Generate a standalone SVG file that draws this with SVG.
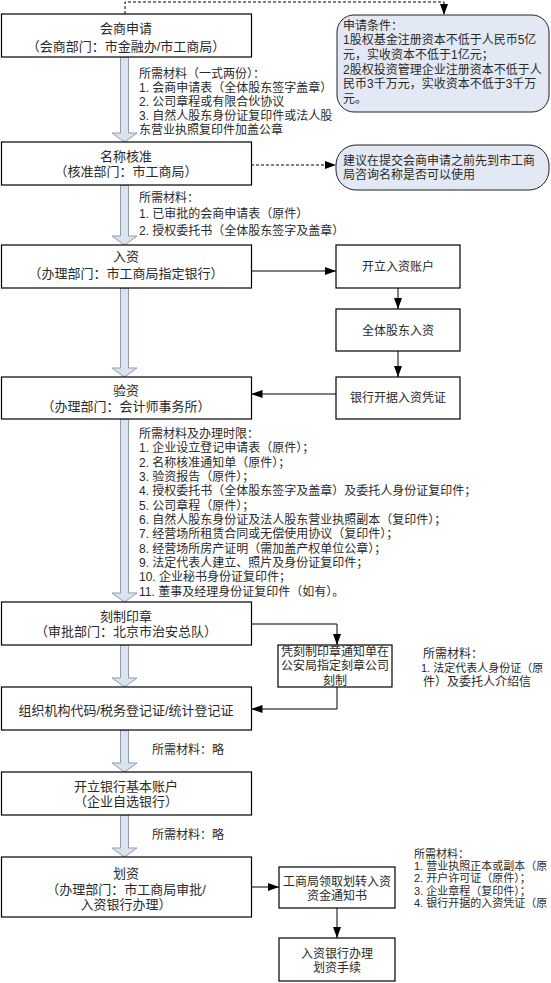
<svg xmlns="http://www.w3.org/2000/svg" width="551" height="983" viewBox="0 0 551 983">
<defs>
<style>
.box{fill:#fff;stroke:#000;stroke-width:1.2}
.rbox{fill:#e2e9f4;stroke:#222;stroke-width:1}
.t{font-family:"Liberation Sans","Noto Sans CJK SC",sans-serif;fill:#2a2a2a}
.m{font-size:13px;text-anchor:middle}
.s{font-size:12px;text-anchor:middle}
.l{font-size:12px}
.l11{font-size:11px}
.c{fill:none;stroke:#000;stroke-width:1}
.d{fill:none;stroke:#000;stroke-width:1;stroke-dasharray:3 2}
.blk{fill:#dbe3ef;stroke:#8f9bb0;stroke-width:1}
</style>
<marker id="ah" viewBox="0 0 11 8" refX="11" refY="4" markerWidth="11" markerHeight="8" orient="auto" markerUnits="userSpaceOnUse">
<path d="M0,0 L11,4 L0,8 Z" fill="#000"/>
</marker>
</defs>
<rect width="551" height="983" fill="#fff"/>

<g id="connectors">
<path class="d" d="M125,14 V2 H444 V15" marker-end="url(#ah)"/>
<path class="d" d="M251,165 H336" marker-end="url(#ah)"/>
<path class="c" d="M251,271 H336" marker-end="url(#ah)"/>
<path class="c" d="M398,288 V309" marker-end="url(#ah)"/>
<path class="c" d="M398,351 V377" marker-end="url(#ah)"/>
<path class="c" d="M336,394 H251.5" marker-end="url(#ah)"/>
<path class="c" d="M251,624 H337 V645" marker-end="url(#ah)"/>
<path class="c" d="M337,687 V709 H251.5" marker-end="url(#ah)"/>
<path class="c" d="M251,887 H279" marker-end="url(#ah)"/>
<path class="c" d="M337,908 V938" marker-end="url(#ah)"/>
<path class="blk" d="M120.5,57 H128.5 V133 H137 L124.5,142 L112,133 H120.5 Z"/>
<path class="blk" d="M120.5,185 H128.5 V236 H137 L124.5,245 L112,236 H120.5 Z"/>
<path class="blk" d="M120.5,288 H128.5 V368 H137 L124.5,377 L112,368 H120.5 Z"/>
<path class="blk" d="M120.5,419 H128.5 V593 H137 L124.5,602 L112,593 H120.5 Z"/>
<path class="blk" d="M120.5,645 H128.5 V678 H137 L124.5,687 L112,678 H120.5 Z"/>
<path class="blk" d="M120.5,730 H128.5 V763 H137 L124.5,772 L112,763 H120.5 Z"/>
<path class="blk" d="M120.5,815 H128.5 V848 H137 L124.5,857 L112,848 H120.5 Z"/>
</g>

<g id="n1">
<rect class="box" x="1.5" y="14" width="250" height="43"/>
<text class="t m" x="126" y="33">会商申请</text>
<text class="t m" x="126" y="50.5">（会商部门：市金融办/市工商局）</text>
</g>
<g id="n1-materials">
<text class="t l" x="139" y="77.5">所需材料（一式两份）：</text>
<text class="t l" x="139" y="91.5">1. 会商申请表（全体股东签字盖章）</text>
<text class="t l" x="139" y="105.5">2. 公司章程或有限合伙协议</text>
<text class="t l" x="139" y="119.5">3. 自然人股东身份证复印件或法人股</text>
<text class="t l" x="139" y="133.5">东营业执照复印件加盖公章</text>
</g>
<g id="cond">
<rect class="rbox" x="337" y="15" width="212" height="97" rx="17" ry="17"/>
<text class="t l" x="343" y="29.5">申请条件：</text>
<text class="t l" x="343" y="44">1股权基金注册资本不低于人民币5亿</text>
<text class="t l" x="343" y="58.8">元，实收资本不低于1亿元；</text>
<text class="t l" x="343" y="73.5">2股权投资管理企业注册资本不低于人</text>
<text class="t l" x="343" y="88">民币3千万元，实收资本不低于3千万</text>
<text class="t l" x="343" y="102.8">元。</text>
</g>

<g id="n2">
<rect class="box" x="1.5" y="142" width="250" height="43"/>
<text class="t m" x="126" y="160.5">名称核准</text>
<text class="t m" x="126" y="176">（核准部门：市工商局）</text>
</g>
<g id="advice">
<rect class="rbox" x="336" y="145" width="213" height="45" rx="20" ry="20"/>
<text class="t l" x="343" y="164.5">建议在提交会商申请之前先到市工商</text>
<text class="t l" x="343" y="179">局咨询名称是否可以使用</text>
</g>
<g id="n2-materials">
<text class="t l" x="139" y="201.5">所需材料：</text>
<text class="t l" x="139" y="218">1. 已审批的会商申请表（原件）</text>
<text class="t l" x="139" y="234.5">2. 授权委托书（全体股东签字及盖章）</text>
</g>

<g id="n3">
<rect class="box" x="1.5" y="245" width="250" height="43"/>
<text class="t m" x="126" y="260.5">入资</text>
<text class="t m" x="126" y="278">（办理部门：市工商局指定银行）</text>
</g>
<g id="s1">
<rect class="box" x="336" y="245" width="124" height="43"/>
<text class="t s" x="398" y="271">开立入资账户</text>
</g>
<g id="s2">
<rect class="box" x="336" y="309" width="124" height="42"/>
<text class="t s" x="398" y="334.5">全体股东入资</text>
</g>
<g id="s3">
<rect class="box" x="336" y="377" width="124" height="42"/>
<text class="t s" x="398" y="402">银行开据入资凭证</text>
</g>

<g id="n4">
<rect class="box" x="1.5" y="377" width="250" height="42"/>
<text class="t m" x="126" y="395">验资</text>
<text class="t m" x="126" y="410.5">（办理部门：会计师事务所）</text>
</g>
<g id="n4-materials">
<text class="t l" x="139" y="437.8">所需材料及办理时限：</text>
<text class="t l" x="139" y="452.2">1. 企业设立登记申请表（原件）；</text>
<text class="t l" x="139" y="466.5">2. 名称核准通知单（原件）；</text>
<text class="t l" x="139" y="480.9">3. 验资报告（原件）；</text>
<text class="t l" x="139" y="495.2">4. 授权委托书（全体股东签字及盖章）及委托人身份证复印件；</text>
<text class="t l" x="139" y="509.6">5. 公司章程（原件）；</text>
<text class="t l" x="139" y="523.9">6. 自然人股东身份证及法人股东营业执照副本（复印件）；</text>
<text class="t l" x="139" y="538.3">7. 经营场所租赁合同或无偿使用协议（复印件）；</text>
<text class="t l" x="139" y="552.6">8. 经营场所房产证明（需加盖产权单位公章）；</text>
<text class="t l" x="139" y="567">9. 法定代表人建立、照片及身份证复印件；</text>
<text class="t l" x="139" y="581.3">10. 企业秘书身份证复印件；</text>
<text class="t l" x="139" y="595.7">11. 董事及经理身份证复印件（如有）。</text>
</g>

<g id="n5">
<rect class="box" x="1.5" y="602" width="250" height="43"/>
<text class="t m" x="126" y="620.5">刻制印章</text>
<text class="t m" x="126" y="636">（审批部门：北京市治安总队）</text>
</g>
<g id="seal">
<rect class="box" x="278" y="645" width="114" height="42"/>
<text class="t s" x="335" y="656">凭刻制印章通知单在</text>
<text class="t s" x="335" y="670">公安局指定刻章公司</text>
<text class="t s" x="335" y="684.5">刻制</text>
</g>
<g id="seal-materials">
<text class="t l" x="423" y="658">所需材料：</text>
<text class="t l11" x="421" y="672">1. 法定代表人身份证（原</text>
<text class="t l" x="423" y="686">件）及委托人介绍信</text>
</g>

<g id="n6">
<rect class="box" x="1.5" y="687" width="250" height="43"/>
<text class="t m" x="126" y="715">组织机构代码/税务登记证/统计登记证</text>
</g>
<text class="t l" x="152" y="754">所需材料：略</text>

<g id="n7">
<rect class="box" x="1.5" y="772" width="250" height="43"/>
<text class="t m" x="126" y="790.5">开立银行基本账户</text>
<text class="t m" x="126" y="806">（企业自选银行）</text>
</g>
<text class="t l" x="152" y="839">所需材料：略</text>

<g id="n8">
<rect class="box" x="1.5" y="857" width="250" height="60"/>
<text class="t m" x="126" y="878">划资</text>
<text class="t m" x="126" y="893.5">（办理部门：市工商局审批/</text>
<text class="t m" x="126" y="909">入资银行办理）</text>
</g>
<g id="f1">
<rect class="box" x="279" y="867" width="116" height="41"/>
<text class="t s" x="337" y="885.5">工商局领取划转入资</text>
<text class="t s" x="337" y="899.5">资金通知书</text>
</g>
<g id="f2">
<rect class="box" x="279" y="938" width="116" height="43"/>
<text class="t s" x="337" y="958">入资银行办理</text>
<text class="t s" x="337" y="971.5">划资手续</text>
</g>
<g id="f-materials">
<text class="t l11" x="414" y="857.5">所需材料：</text>
<text class="t l11" x="414" y="869.5">1. 营业执照正本或副本（原</text>
<text class="t l11" x="414" y="882">2. 开户许可证（原件）；</text>
<text class="t l11" x="414" y="894.5">3. 企业章程（复印件）；</text>
<text class="t l11" x="414" y="907">4. 银行开据的入资凭证（原</text>
</g>
</svg>
